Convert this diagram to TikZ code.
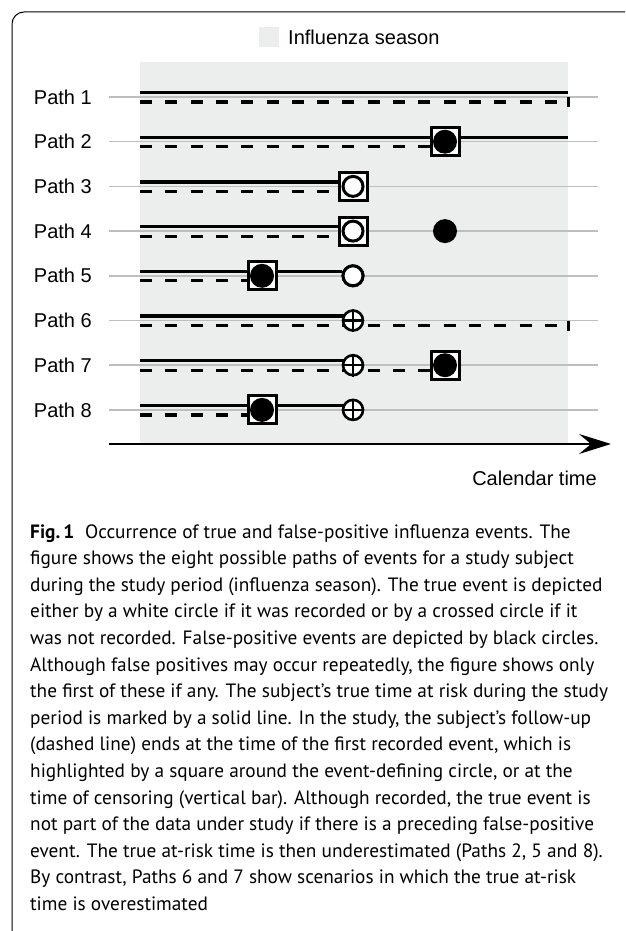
\documentclass[tikz,border=0pt]{standalone}
\usepackage{fontspec}
\setmainfont{Liberation Sans}
\newfontfamily\capfont{PT Sans}
\usetikzlibrary{arrows.meta}
\definecolor{seasongray}{RGB}{236,237,237}
\definecolor{gline}{RGB}{190,190,190}
\tikzset{
  lbl/.style={font=\fontsize{20}{24}\selectfont, inner sep=0pt},
  capl/.style={font=\capfont\fontsize{19.3}{22}\selectfont, inner sep=0pt, anchor=base west},
  grayline/.style={draw=gline, line width=1.5pt},
  solidl/.style={line width=3.3pt},
  dashl/.style={line width=3.2pt, dash pattern=on 12pt off 13.3pt},
  cbar/.style={line width=3pt},
  sqbox/.style={rectangle, draw, line width=3pt, fill=white, minimum size=28pt, inner sep=0pt},
  bdot/.style={circle, fill=black, minimum size=24pt, inner sep=0pt},
  wcirc/.style={circle, draw, line width=3pt, fill=white, minimum size=20pt, inner sep=0pt},
  xcirc/.style={circle, draw, line width=2.6pt, fill=white, minimum size=20pt, inner sep=0pt},
}
\begin{document}
\begin{tikzpicture}[x=1pt,y=-1pt]
\useasboundingbox (0,0) rectangle (625,931);
% frame
\draw[line width=1pt, rounded corners=12pt] (12,931) -- (12,12) -- (625,12);
% legend
\fill[seasongray] (259,27) rectangle (279,47);
\node[lbl, anchor=west] (leg) at (288,37) {Influenza season};
% shaded season
\fill[seasongray] (140,62) rectangle (568,443);
% rows
\def\ra{97}\def\rb{141.7}\def\rc{186.4}\def\rd{231.1}
\def\re{275.8}\def\rf{320.5}\def\rg{365.2}\def\rh{409.9}
\foreach \y/\n in {97/1,141.7/2,186.4/3,231.1/4,275.8/5,320.5/6,365.2/7,409.9/8}{
  \node[lbl, anchor=east] (p\n) at (92,\y) {Path \n};
  \coordinate (g\n) at (109,\y);
  \coordinate (h\n) at (598,\y);
  \draw[grayline] (g\n) -- (h\n);
  \coordinate (s\n) at (140,\y-4.5);
  \coordinate (d\n) at (140,\y+5);
}
% end points
\coordinate (end1s) at (568,\ra-4.5);
\coordinate (end1d) at (568,\ra+5);
\coordinate (end2s) at (568,\rb-4.5);
\coordinate (end6d) at (568,\rf+5);
% Path 1
\draw[solidl] (s1) -- (end1s);
\draw[dashl] (d1) -- (end1d);
\draw[cbar] (568,\ra) -- (568,\ra+10);
% Path 2
\node[sqbox] (q2) at (445,\rb) {};
\draw[solidl] (s2) -- (end2s);
\draw[dashl] (d2) -- (d2 -| q2.west);
\node[sqbox] (q2b) at (445,\rb) {};
\node[bdot] (b2) at (445,\rb) {};
% Path 3
\node[sqbox] (q3) at (353,\rc) {};
\draw[solidl] (s3) -- (s3 -| q3.west);
\draw[dashl] (d3) -- (d3 -| q3.west);
\node[wcirc] (w3) at (353,\rc) {};
% Path 4
\node[sqbox] (q4) at (353,\rd) {};
\draw[solidl] (s4) -- (s4 -| q4.west);
\draw[dashl] (d4) -- (d4 -| q4.west);
\node[wcirc] (w4) at (353,\rd) {};
\node[bdot] (b4) at (445,\rd) {};
% Path 5
\node[sqbox] (q5) at (262,\re) {};
\node[wcirc] (w5) at (353,\re) {};
\draw[solidl] (s5) -- (w5.west |- s5);
\draw[dashl] (d5) -- (d5 -| q5.west);
\node[sqbox] (q5b) at (262,\re) {};
\node[bdot] (b5) at (262,\re) {};
\node[wcirc] (w5b) at (353,\re) {};
% Path 6
\coordinate (x6) at (353,\rf);
\draw[solidl] (s6) -- (s6 -| x6);
\draw[dashl] (d6) -- (end6d);
\draw[cbar] (568,\rf) -- (568,\rf+10);
\node[xcirc] (c6) at (x6) {};
\draw[line width=2.4pt] (c6.north) -- (c6.south) (c6.west) -- (c6.east);
% Path 7
\coordinate (x7) at (353,\rg);
\node[sqbox] (q7) at (445,\rg) {};
\draw[solidl] (s7) -- (s7 -| x7);
\draw[dashl] (d7) -- (d7 -| q7.west);
\node[xcirc] (c7) at (x7) {};
\draw[line width=2.4pt] (c7.north) -- (c7.south) (c7.west) -- (c7.east);
\node[sqbox] (q7b) at (445,\rg) {};
\node[bdot] (b7) at (445,\rg) {};
% Path 8
\coordinate (x8) at (353,\rh);
\node[sqbox] (q8) at (262,\rh) {};
\draw[solidl] (s8) -- (s8 -| x8);
\draw[dashl] (d8) -- (d8 -| q8.west);
\node[sqbox] (q8b) at (262,\rh) {};
\node[bdot] (b8) at (262,\rh) {};
\node[xcirc] (c8) at (x8) {};
\draw[line width=2.4pt] (c8.north) -- (c8.south) (c8.west) -- (c8.east);
% axis
\coordinate (ax0) at (109,444);
\coordinate (ax1) at (611,444);
\draw[line width=1.5pt, -{Stealth[length=32pt,width=20pt,inset=12pt]}] (ax0) -- (ax1);
\node[lbl, anchor=east] (cal) at (597,478) {Calendar time};
% caption
\node[capl] (c01) at (30,538.0) {{\bfseries Fig.\,1}\hspace{0.55em}Occurrence of true and false-positive influenza events. The};
\node[capl] (c02) at (30,564.6) {figure shows the eight possible paths of events for a study subject};
\node[capl] (c03) at (30,591.2) {during the study period (influenza season). The true event is depicted};
\node[capl] (c04) at (30,617.8) {either by a white circle if it was recorded or by a crossed circle if it};
\node[capl] (c05) at (30,644.4) {was not recorded. False-positive events are depicted by black circles.};
\node[capl] (c06) at (30,671.0) {Although false positives may occur repeatedly, the figure shows only};
\node[capl] (c07) at (30,697.6) {the first of these if any. The subject’s true time at risk during the study};
\node[capl] (c08) at (30,724.2) {period is marked by a solid line. In the study, the subject’s follow-up};
\node[capl] (c09) at (30,750.8) {(dashed line) ends at the time of the first recorded event, which is};
\node[capl] (c10) at (30,777.4) {highlighted by a square around the event-defining circle, or at the};
\node[capl] (c11) at (30,804.0) {time of censoring (vertical bar). Although recorded, the true event is};
\node[capl] (c12) at (30,830.6) {not part of the data under study if there is a preceding false-positive};
\node[capl] (c13) at (30,857.2) {event. The true at-risk time is then underestimated (Paths 2, 5 and 8).};
\node[capl] (c14) at (30,883.8) {By contrast, Paths 6 and 7 show scenarios in which the true at-risk};
\node[capl] (c15) at (30,910.4) {time is overestimated};
\end{tikzpicture}
\end{document}
